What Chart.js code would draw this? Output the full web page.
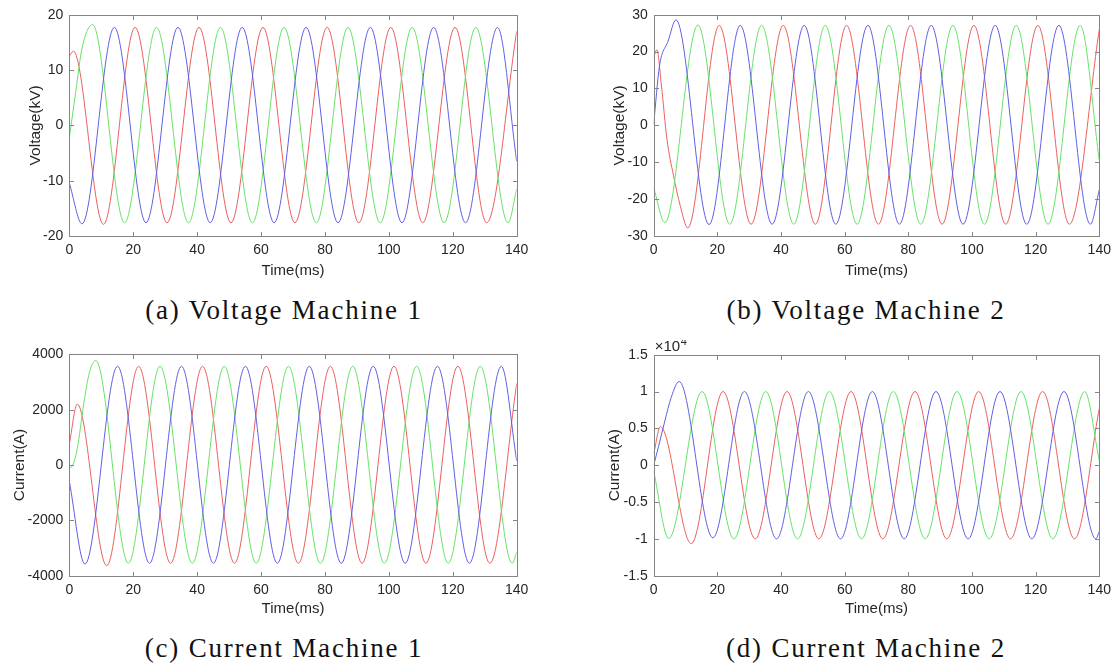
<!DOCTYPE html>
<html>
<head>
<meta charset="utf-8">
<script src="https://cdn.jsdelivr.net/npm/chart.js@4"></script>
<style>
  body { margin: 0; width: 1118px; height: 667px; background: #fff; position: relative; overflow: hidden; }
  canvas { position: absolute; }
  .caption {
    position: absolute; width: 400px; text-align: center;
    font-family: "Liberation Serif", "Times New Roman", serif;
    font-size: 27px; line-height: 30px; letter-spacing: 1.8px; color: #111;
  }
</style>
</head>
<body>
<canvas id="chartA" width="559" height="290" style="left:0;top:0"></canvas>
<canvas id="chartB" width="559" height="290" style="left:559px;top:0"></canvas>
<canvas id="chartC" width="559" height="290" style="left:0;top:340px"></canvas>
<canvas id="chartD" width="559" height="290" style="left:559px;top:340px"></canvas>

<div class="caption" style="left:84px;top:295px">(a) Voltage Machine 1</div>
<div class="caption" style="left:666px;top:295px">(b) Voltage Machine 2</div>
<div class="caption" style="left:84px;top:633px">(c) Current Machine 1</div>
<div class="caption" style="left:666px;top:633px">(d) Current Machine 2</div>

<script>
// shared axis ticks
const timeTicks = [0, 20, 40, 60, 80, 100, 120, 140];
const aTicks = [-20, -10, 0, 10, 20];
const bTicks = [-30, -20, -10, 0, 10, 20, 30];
const cTicks = [-4000, -2000, 0, 2000, 4000];
const dTicks = [-15000, -10000, -5000, 0, 5000, 10000, 15000];

// (a) Voltage Machine 1, kV (peaks / troughs)
const aRedT = [0, 1.3, 10.7, 20.6, 30.6, 40.6, 50.6, 60.6, 70.6, 80.7, 90.6, 100.6, 110.6, 120.7, 130.6, 140];
const aRedV = [12.5, 13.4, -17.9, 17.7, -17.6, 17.7, -17.6, 17.7, -17.6, 17.7, -17.6, 17.7, -17.6, 17.7, -17.6, 17.0];
const aGreenT = [0, 2, 4, 7.3, 17.3, 27.3, 37.3, 47.3, 57.3, 67.2, 77.3, 87.2, 97.3, 107.3, 117.3, 127.2, 137.3, 140];
const aGreenV = [-2.3, 6, 14, 18.2, -17.6, 17.7, -17.6, 17.7, -17.6, 17.7, -17.6, 17.7, -17.6, 17.7, -17.6, 17.7, -17.6, -11.5];
const aBlueT = [0, 4.0, 14.1, 24.0, 34.0, 44.1, 54.1, 64.1, 74.1, 84.1, 94.2, 104.1, 114.0, 124.0, 134.0, 140];
const aBlueV = [-10.4, -17.8, 17.7, -17.6, 17.7, -17.6, 17.7, -17.6, 17.7, -17.6, 17.7, -17.6, 17.7, -17.6, 17.7, -6.5];

// (b) Voltage Machine 2, kV
const bRedT = [0, 1.0, 2.4, 4.2, 6.2, 8.4, 10.7, 20.6, 30.6, 40.7, 50.8, 60.6, 70.6, 80.7, 90.6, 100.6, 110.6, 120.7, 130.6, 140];
const bRedV = [18.5, 20.5, 11, -4, -13.5, -22, -27.8, 27.1, -26.8, 27.1, -26.8, 27.1, -26.8, 27.1, -26.8, 27.1, -26.8, 27.1, -26.8, 26];
const bGreenT = [0, 3.5, 13.9, 23.9, 33.9, 44.0, 53.9, 63.9, 73.9, 83.9, 94.0, 103.9, 113.9, 123.9, 134.0, 140];
const bGreenV = [-16.9, -26.4, 27.2, -26.8, 27.1, -26.8, 27.1, -26.8, 27.1, -26.8, 27.1, -26.8, 27.1, -26.8, 27.1, -9.5];
const bBlueT = [0, 1.8, 4.5, 7.0, 17.4, 27.2, 37.2, 47.3, 57.2, 67.3, 77.2, 87.2, 97.2, 107.3, 117.2, 127.3, 137.2, 140];
const bBlueV = [0.3, 16, 22.8, 28.6, -26.9, 27.1, -26.8, 27.1, -26.8, 27.1, -26.8, 27.1, -26.8, 27.1, -26.8, 27.1, -26.8, -17.5];

// (c) Current Machine 1, A
const cRedT = [0, 2.5, 11.7, 21.7, 31.7, 41.7, 51.7, 61.6, 71.7, 81.7, 91.6, 101.6, 111.6, 121.6, 131.6, 140];
const cRedV = [750, 2200, -3640, 3570, -3550, 3570, -3550, 3570, -3550, 3570, -3550, 3570, -3550, 3570, -3550, 2950];
const cGreenT = [0, 0.8, 2.5, 4.5, 6.3, 8.3, 18.5, 28.4, 38.5, 48.5, 58.5, 68.6, 78.6, 88.7, 98.6, 108.7, 118.6, 128.6, 138.6, 140];
const cGreenV = [-100, -60, 600, 2200, 3350, 3780, -3550, 3570, -3550, 3570, -3550, 3570, -3550, 3570, -3550, 3570, -3550, 3570, -3550, -3150];
const cBlueT = [0, 4.9, 15.1, 25.1, 35.1, 45.1, 55.1, 65.1, 75.1, 85.1, 95.1, 105.1, 115.2, 125.2, 135.2, 140];
const cBlueV = [-580, -3580, 3570, -3550, 3570, -3550, 3570, -3550, 3570, -3550, 3570, -3550, 3570, -3550, 3570, 150];

// (d) Current Machine 2, A
const dRedT = [0, 2.1, 11.8, 21.8, 31.9, 41.9, 51.9, 62.0, 72.0, 82.1, 92.1, 102.1, 112.1, 122.2, 132.2, 140];
const dRedV = [1500, 5250, -10650, 10000, -10000, 10000, -10000, 10000, -10000, 10000, -10000, 10000, -10000, 10000, -10000, 7700];
const dGreenT = [0, 4.7, 15.2, 25.2, 35.2, 45.2, 55.2, 65.3, 75.3, 85.3, 95.3, 105.4, 115.4, 125.4, 135.4, 140];
const dGreenV = [-800, -9950, 10000, -10000, 10000, -10000, 10000, -10000, 10000, -10000, 10000, -10000, 10000, -10000, 10000, 600];
const dBlueT = [0, 1.5, 3.5, 5.5, 8.0, 18.6, 28.5, 38.6, 48.6, 58.7, 68.7, 78.7, 88.7, 98.8, 108.8, 118.8, 128.9, 138.9, 140];
const dBlueV = [0, 2500, 6000, 9200, 11360, -9860, 10000, -10000, 10000, -10000, 10000, -10000, 10000, -10000, 10000, -10000, 10000, -10000, -9000];

const RED = "rgb(235, 96, 96)";
const GREEN = "rgb(104, 226, 104)";
const BLUE = "rgb(96, 96, 228)";
const textColor = "#262626";
const axisColor = "#858585";
const sansFamily = '"Liberation Sans", Arial, sans-serif';

function phase(t, v, color) {
  return {
    data: t.map((x, i) => ({ x: x, y: v[i] })),
    borderColor: color,
    borderWidth: 1,
    pointRadius: 0,
    fill: false,
    cubicInterpolationMode: "monotone",
  };
}

// box with inward ticks on all four sides, plus the x10^4 exponent label
const boxPlugin = {
  id: "matlabBox",
  afterDatasetsDraw(chart, args, opts) {
    const { ctx, chartArea, scales } = chart;
    const l = Math.round(chartArea.left) + 0.5;
    const r = Math.round(chartArea.right) + 0.5;
    const t = Math.round(chartArea.top) + 0.5;
    const b = Math.round(chartArea.bottom) + 0.5;
    const len = 4.5;
    ctx.save();
    ctx.strokeStyle = axisColor;
    ctx.lineWidth = 1;
    ctx.strokeRect(l, t, r - l, b - t);
    ctx.beginPath();
    scales.x.ticks.forEach((tk) => {
      const px = Math.round(scales.x.getPixelForValue(tk.value)) + 0.5;
      ctx.moveTo(px, b); ctx.lineTo(px, b - len);
      ctx.moveTo(px, t); ctx.lineTo(px, t + len);
    });
    scales.y.ticks.forEach((tk) => {
      const py = Math.round(scales.y.getPixelForValue(tk.value)) + 0.5;
      ctx.moveTo(l, py); ctx.lineTo(l + len, py);
      ctx.moveTo(r, py); ctx.lineTo(r - len, py);
    });
    ctx.stroke();
    if (opts.exponent) {
      ctx.fillStyle = textColor;
      ctx.textBaseline = "middle";
      ctx.textAlign = "left";
      ctx.font = "15px " + sansFamily;
      ctx.fillText("×10", chartArea.left + 1, chartArea.top - 8);
      const w = ctx.measureText("×10").width;
      ctx.font = "11px " + sansFamily;
      ctx.fillText(opts.exponent, chartArea.left + 1.5 + w, chartArea.top - 13);
    }
    ctx.restore();
  },
};

function makeChart(id, cfg) {
  const ctx = document.getElementById(id).getContext("2d");
  return new Chart(ctx, {
    type: "line",
    data: { datasets: cfg.datasets },
    options: {
      responsive: false,
      animation: false,
      layout: { padding: cfg.padding },
      plugins: {
        legend: { display: false },
        tooltip: { enabled: false },
        matlabBox: { exponent: cfg.exponent || "" },
      },
      scales: {
        x: {
          type: "linear",
          min: 0,
          max: 140,
          afterBuildTicks: (s) => { s.ticks = timeTicks.map((v) => ({ value: v })); },
          ticks: { color: textColor, font: { family: sansFamily, size: 14 }, padding: 6, maxRotation: 0, callback: (v) => String(v) },
          grid: { display: false, drawTicks: false },
          border: { display: false },
          title: { display: true, text: "Time(ms)", color: textColor, font: { family: sansFamily, size: 15 }, padding: { top: 0, bottom: cfg.xTitlePad } },
          afterFit: (s) => { s.height = cfg.xHeight; },
        },
        y: {
          type: "linear",
          min: cfg.yTicks[0],
          max: cfg.yTicks[cfg.yTicks.length - 1],
          afterBuildTicks: (s) => { s.ticks = cfg.yTicks.map((v) => ({ value: v })); },
          ticks: { color: textColor, font: { family: sansFamily, size: 14 }, padding: 6, callback: cfg.yFormat },
          grid: { display: false, drawTicks: false },
          border: { display: false },
          title: { display: true, text: cfg.yTitle, color: textColor, font: { family: sansFamily, size: 15.5 }, padding: 0 },
          afterFit: (s) => { s.width = cfg.yWidth; },
        },
      },
    },
    plugins: [boxPlugin],
  });
}

makeChart("chartA", {
  datasets: [phase(aBlueT, aBlueV, BLUE), phase(aGreenT, aGreenV, GREEN), phase(aRedT, aRedV, RED)],
  yTicks: aTicks, yTitle: "Voltage(kV)", yFormat: (v) => String(v),
  padding: { left: 26, top: 14.7, right: 42.3, bottom: 0 }, yWidth: 43.3, xHeight: 54, xTitlePad: 10.3,
});

makeChart("chartB", {
  datasets: [phase(bBlueT, bBlueV, BLUE), phase(bGreenT, bGreenV, GREEN), phase(bRedT, bRedV, RED)],
  yTicks: bTicks, yTitle: "Voltage(kV)", yFormat: (v) => String(v),
  padding: { left: 51.3, top: 14.7, right: 18.7, bottom: 0 }, yWidth: 43.4, xHeight: 54, xTitlePad: 10.3,
});

makeChart("chartC", {
  datasets: [phase(cBlueT, cBlueV, BLUE), phase(cGreenT, cGreenV, GREEN), phase(cRedT, cRedV, RED)],
  yTicks: cTicks, yTitle: "Current(A)", yFormat: (v) => String(v),
  padding: { left: 10, top: 14.3, right: 42.3, bottom: 0 }, yWidth: 59.3, xHeight: 54.3, xTitlePad: 11.7,
});

makeChart("chartD", {
  datasets: [phase(dBlueT, dBlueV, BLUE), phase(dGreenT, dGreenV, GREEN), phase(dRedT, dRedV, RED)],
  yTicks: dTicks, yTitle: "Current(A)", yFormat: (v) => String(v / 10000),
  padding: { left: 46, top: 14.7, right: 18.7, bottom: 0 }, yWidth: 48.7, xHeight: 54.3, xTitlePad: 11.7,
  exponent: "4",
});
</script>
</body>
</html>
